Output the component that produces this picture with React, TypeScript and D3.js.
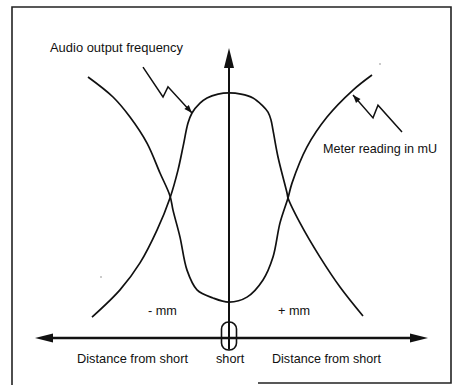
import React from "react";
import * as d3 from "d3";

// Distance from short (mm-ish units, negative = left of short)
const audioDistance = [-13.7, -10.9, -8.9, -7.2, -5.9, -5.1, -4.6, -4.1, -3.7, -2.9, -2.2, -1.1, 0, 1.2, 2.4, 3.3, 3.9, 4.2, 4.4, 4.9, 5.8, 5.9, 7.1, 9.1, 11.1, 13.4];
const audioOutput = [7.2, 16.6, 25.9, 37.2, 48.3, 57.9, 65.9, 74.1, 77.6, 81.0, 82.8, 84.1, 84.5, 84.1, 82.8, 80.3, 77.9, 75.2, 71.7, 62.4, 50, 48.3, 39.7, 27.9, 17.6, 7.6];

const meterDistance = [-14.1, -11.6, -9.9, -8.2, -6.9, -5.9, -5.6, -4.9, -4.2, -3.2, -1.6, 0, 1.8, 3.4, 4.4, 5.1, 5.9, 6.3, 7.8, 9.8, 12.4, 14.3];
const meterReading = [90, 83.1, 76.2, 67.2, 56.9, 49, 44.1, 34.8, 23.4, 16.6, 13.8, 12.4, 14.1, 20, 27.9, 39.7, 48.3, 53.4, 65.9, 76.2, 85.5, 90.7];

// annotation pointers (data units), from tail to tip
const audioPointerX = [-8.6, -6.6, -6.1, -3.7];
const audioPointerY = [93.4, 83.1, 86.6, 77.6];
const meterPointerX = [17.3, 14.9, 14.4, 12.4];
const meterPointerY = [71.0, 80.3, 75.9, 83.8];

const xExtent = [-19.4, 19.9];
const yExtent = [0, 100];

const FONT = "'Liberation Sans', Arial, Helvetica, sans-serif";

export default function App() {
  const W = 455;
  const H = 385;
  const x = d3.scaleLinear().domain(xExtent).range([35, 428]);
  const y = d3.scaleLinear().domain(yExtent).range([338, 48]);

  const line = d3
    .line<[number, number]>()
    .x((d) => x(d[0]))
    .y((d) => y(d[1]))
    .curve(d3.curveCatmullRom.alpha(0.5));

  const audioPts: [number, number][] = audioDistance.map((d, i) => [d, audioOutput[i]]);
  const meterPts: [number, number][] = meterDistance.map((d, i) => [d, meterReading[i]]);

  const poly = d3.line<[number, number]>().x((d) => x(d[0])).y((d) => y(d[1]));
  const audioPtr: [number, number][] = audioPointerX.map((d, i) => [d, audioPointerY[i]]);
  const meterPtr: [number, number][] = meterPointerX.map((d, i) => [d, meterPointerY[i]]);

  const head = (pts: [number, number][], len: number, half: number) => {
    const a = pts[pts.length - 2];
    const b = pts[pts.length - 1];
    const x1 = x(a[0]), y1 = y(a[1]), x2 = x(b[0]), y2 = y(b[1]);
    const dx = x2 - x1, dy = y2 - y1;
    const L = Math.hypot(dx, dy);
    const ux = dx / L, uy = dy / L;
    const bx = x2 - ux * len, by = y2 - uy * len;
    return `M${x2},${y2}L${bx - uy * half},${by + ux * half}L${bx + uy * half},${by - ux * half}Z`;
  };

  const x0 = x(0);
  const yAxis = y(0);
  const yTop = y(100);

  return (
    <div style={{ position: "fixed", left: 0, top: 0 }}>
      <svg width={W} height={H} style={{ display: "block", background: "#fff" }}>
        {/* frame */}
        <path d="M12,385 L12,7 L451,7 L451,383 L258,383" fill="none" stroke="#222" strokeWidth={1.6} />
        {/* tiny specks */}
        <circle cx={380} cy={64} r={0.8} fill="#888" />
        <circle cx={101} cy={277} r={0.8} fill="#888" />

        {/* curves */}
        <path d={line(audioPts) || ""} fill="none" stroke="#111" strokeWidth={1.7} />
        <path d={line(meterPts) || ""} fill="none" stroke="#111" strokeWidth={1.7} />

        {/* vertical axis */}
        <line x1={x0} x2={x0} y1={y(-4)} y2={yTop + 18} stroke="#111" strokeWidth={2} />
        <path d={`M${x0},${yTop}L${x0 - 5},${yTop + 20}L${x0 + 5},${yTop + 20}Z`} fill="#111" />

        {/* horizontal axis */}
        <line x1={x(xExtent[0]) + 10} x2={x(xExtent[1]) - 10} y1={yAxis} y2={yAxis} stroke="#111" strokeWidth={2.4} />
        <path d={`M${x(xExtent[0])},${yAxis}L${x(xExtent[0]) + 18},${yAxis - 4.5}L${x(xExtent[0]) + 18},${yAxis + 4.5}Z`} fill="#111" />
        <path d={`M${x(xExtent[1])},${yAxis}L${x(xExtent[1]) - 18},${yAxis - 4.5}L${x(xExtent[1]) - 18},${yAxis + 4.5}Z`} fill="#111" />

        {/* short marker */}
        <rect x={x0 - 7.5} y={y(5.5)} width={15} height={28} rx={7} ry={7} fill="none" stroke="#111" strokeWidth={1.6} />

        {/* pointers */}
        <path d={poly(audioPtr) || ""} fill="none" stroke="#111" strokeWidth={1.5} />
        <path d={head(audioPtr, 8, 3)} fill="#111" />
        <path d={poly(meterPtr) || ""} fill="none" stroke="#111" strokeWidth={1.5} />
        <path d={head(meterPtr, 8, 3)} fill="#111" />

        {/* labels */}
        <g fontFamily={FONT} fontSize={12.7} fill="#111">
          <text x={50} y={52} textLength={133} lengthAdjust="spacingAndGlyphs">Audio output frequency</text>
          <text x={323} y={153} textLength={114} lengthAdjust="spacingAndGlyphs">Meter reading in mU</text>
          <text x={148} y={315}>- mm</text>
          <text x={278} y={315}>+ mm</text>
          <text x={77} y={363} textLength={111} lengthAdjust="spacingAndGlyphs">Distance from short</text>
          <text x={216} y={363}>short</text>
          <text x={272} y={363} textLength={109} lengthAdjust="spacingAndGlyphs">Distance from short</text>
        </g>
      </svg>
    </div>
  );
}
